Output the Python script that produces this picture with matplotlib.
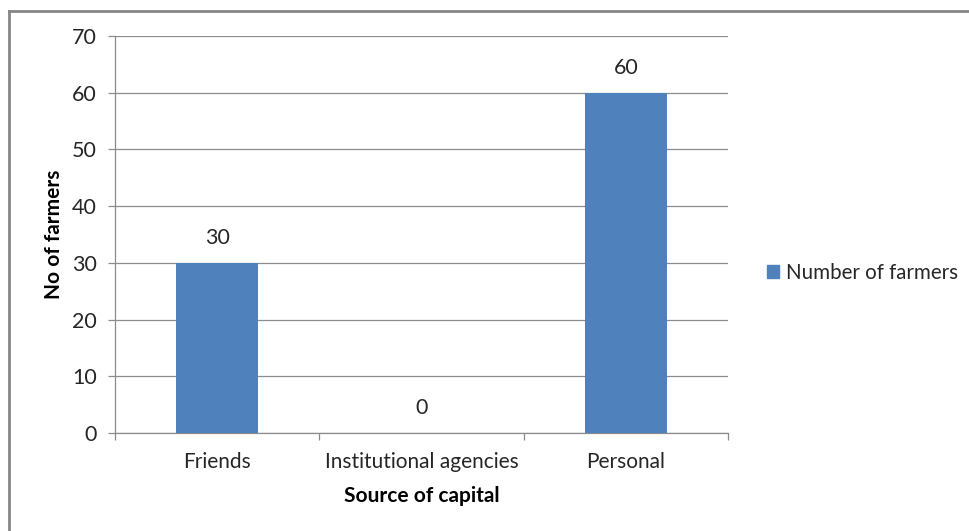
import matplotlib.pyplot as plt
from matplotlib.lines import Line2D

plt.rcParams['font.family'] = ['Lato', 'DejaVu Sans']

categories = ['Friends', 'Institutional agencies', 'Personal']
farmers = [30, 0, 60]
series_name = 'Number of farmers'

BAR_COLOR = '#4f81bd'
GRID_COLOR = '#8c8c8c'
TEXT_COLOR = '#262626'

fig = plt.figure(figsize=(9.69, 5.31), dpi=100)
ax = fig.add_axes([115 / 969, 1 - 433 / 531, (728 - 115) / 969, (433 - 36) / 531])

x = list(range(len(categories)))
bars = ax.bar(x, farmers, width=0.4, color=BAR_COLOR, label=series_name, zorder=3)

ax.set_xlim(-0.5, len(categories) - 0.5)
ax.set_ylim(0, 70)
ax.set_yticks(range(0, 71, 10))
ax.yaxis.grid(True, color=GRID_COLOR, linewidth=0.9, zorder=0)

# category labels sit between boundary ticks, like a spreadsheet chart
ax.set_xticks([i - 0.5 for i in range(len(categories) + 1)])
ax.set_xticklabels([])
ax.set_xticks(x, minor=True)
ax.set_xticklabels(categories, minor=True)
ax.tick_params(axis='x', which='minor', length=0, pad=14, labelsize=15, labelcolor=TEXT_COLOR)
ax.tick_params(axis='x', which='major', length=5, color=GRID_COLOR, width=0.9)
ax.tick_params(axis='y', length=5, color=GRID_COLOR, width=0.9, labelsize=15.5,
               labelcolor=TEXT_COLOR, pad=8)

for side in ['top', 'right']:
    ax.spines[side].set_visible(False)
for side in ['left', 'bottom']:
    ax.spines[side].set_color(GRID_COLOR)
    ax.spines[side].set_linewidth(0.9)

for b, v in zip(bars, farmers):
    ax.text(b.get_x() + b.get_width() / 2, v + 2.6, str(v), ha='center', va='bottom',
            fontsize=15.5, color=TEXT_COLOR)

ax.set_xlabel('Source of capital', fontsize=15, fontweight='bold', labelpad=10, color='black')
ax.set_ylabel('No of farmers', fontsize=15, fontweight='bold', labelpad=6, color='black')

fig.legend(handles=[plt.Rectangle((0, 0), 1, 1, color=BAR_COLOR)], labels=[series_name],
           loc='center left', bbox_to_anchor=(748 / 969, 1 - 273 / 531), frameon=False,
           fontsize=14.8, handlelength=0.6, handleheight=0.6, handletextpad=0.35,
           labelcolor=TEXT_COLOR)

# outer chart border (left and top visible)
fig.add_artist(Line2D([9 / 969, 9 / 969], [0, 1 - 10.5 / 531], transform=fig.transFigure,
                      color='#868686', linewidth=2))
fig.add_artist(Line2D([9 / 969, 1], [1 - 10.5 / 531, 1 - 10.5 / 531], transform=fig.transFigure,
                      color='#868686', linewidth=2))

fig.savefig('out.png', dpi=100)
